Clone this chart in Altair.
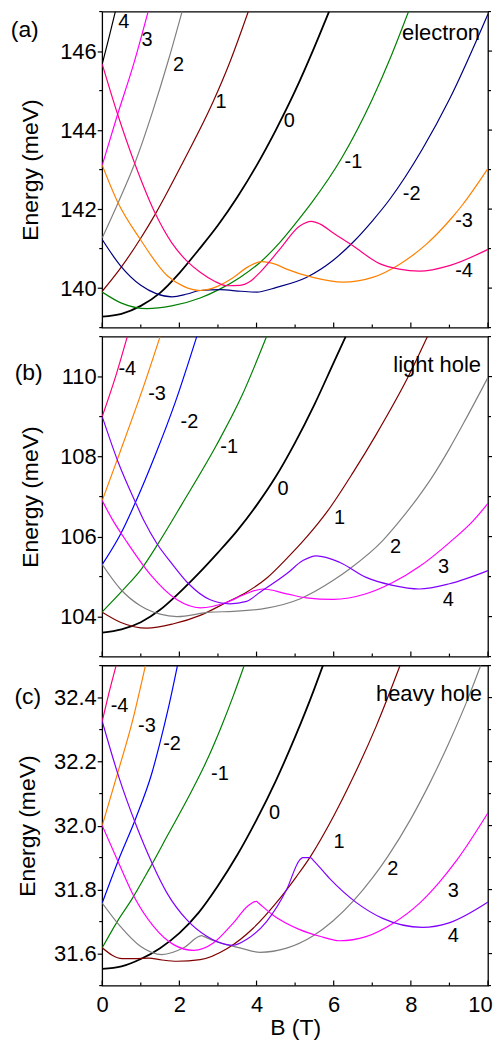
import altair as alt
import pandas as pd

FONT = "Liberation Sans"
W = 387

X_MAJOR = [0, 2, 4, 6, 8, 10]
X_MINOR = [1, 3, 5, 7, 9]

# ---------------- panel (a) electron ----------------
A_NAMES = ["4", "3", "2", "1", "0", "-1", "-2", "-3", "-4"]
A_COLORS = ["#000000", "#FF00FF", "#808080", "#800000", "#000000",
            "#008000", "#000080", "#FF8000", "#FF0080"]
a_p4 = [(0, 145.67), (0.17, 146.32), (0.34, 147.0)]
a_p3 = [(0, 143.11), (0.4, 144.4), (0.82, 145.69), (1.19, 147.0)]
a_p2 = [(0, 141.27), (0.43, 142.2), (0.86, 143.2), (1.3, 144.45), (1.74, 145.85), (2.07, 147.0)]
a_p1 = [(0, 139.92), (0.47, 140.5), (0.99, 141.25), (1.38, 141.88), (2.1, 143.2),
        (2.88, 144.73), (3.3, 145.7), (3.785, 147.0)]
a_0 = [(0, 139.28), (0.5, 139.35), (1.0, 139.55), (1.5, 139.88), (2.0, 140.38), (2.5, 140.97),
       (3.0, 141.59), (3.5, 142.3), (4.0, 143.1), (4.5, 144.0), (5.0, 144.99), (5.5, 146.1),
       (5.88, 147.0)]
a_m1 = [(0, 139.9), (0.5, 139.62), (1.16, 139.48), (1.8, 139.55), (2.54, 139.75), (3.06, 139.98),
        (3.57, 140.27), (4.09, 140.65), (4.6, 141.15), (5.12, 141.77), (5.42, 142.15),
        (6.2, 143.28), (7.0, 144.78), (7.5, 145.9), (7.94, 147.0)]
a_m2 = [(0, 141.23), (0.47, 140.57), (1.0, 140.07), (1.4, 139.86), (1.81, 139.78), (2.2, 139.85),
        (2.54, 139.94), (3.06, 139.96), (3.6, 139.92), (4.0, 139.9), (4.52, 140.02), (5.29, 140.27),
        (5.98, 140.7), (6.5, 141.16), (7.01, 141.71), (7.44, 142.23), (8.3, 143.52), (9.0, 144.78),
        (10, 146.94)]
a_m3 = [(0, 143.11), (0.39, 142.2), (0.99, 141.23), (1.68, 140.32), (2.1, 140.05), (2.54, 139.94),
        (3.0, 140.05), (3.4, 140.27), (3.8, 140.55), (4.13, 140.67), (4.5, 140.6), (4.78, 140.48),
        (5.46, 140.27), (6.24, 140.15), (7.01, 140.27), (7.7, 140.6), (8.39, 141.1),
        (9.08, 141.8), (9.34, 142.11), (10, 143.03)]
a_m4 = [(0, 145.67), (0.4, 144.4), (0.86, 143.11), (1.38, 141.88), (1.8, 141.15), (2.21, 140.67),
        (2.54, 140.4), (2.9, 140.18), (3.23, 140.06), (3.57, 140.07), (3.85, 140.18), (4.09, 140.4),
        (4.6, 140.98), (5.12, 141.57), (5.42, 141.69), (5.65, 141.62), (5.98, 141.4), (6.5, 141.07),
        (7.19, 140.62), (7.7, 140.48), (8.22, 140.43), (9.0, 140.57), (10, 140.98)]
A_CURVES = [a_p4, a_p3, a_p2, a_p1, a_0, a_m1, a_m2, a_m3, a_m4]
A_LAB = ["4", "3", "2", "1", "0", "-1", "-2", "-3", "-4"]
A_LAB_B = [0.56, 1.16, 1.98, 3.08, 4.85, 6.51, 8.02, 9.38, 9.38]
A_LAB_E = [146.73, 146.27, 145.65, 144.72, 144.23, 143.18, 142.38, 141.69, 140.44]
A_YMAJ = [140, 142, 144, 146]
A_YMIN = [139, 141, 143, 145, 147]

# ---------------- panel (b) light hole ----------------
B_NAMES = ["-4", "-3", "-2", "-1", "0", "1", "2", "3", "4"]
B_COLORS = ["#FF0080", "#FF8000", "#0000FF", "#008000", "#000000",
            "#800000", "#808080", "#FF00FF", "#8000FF"]
b_m4 = [(0, 109.0), (0.34, 109.98), (0.65, 111.0)]
b_m3 = [(0, 106.9), (0.4, 107.95), (0.75, 108.88), (1.07, 109.75), (1.5, 111.0)]
b_m2 = [(0, 105.3), (0.47, 106.05), (0.86, 106.85), (1.38, 108.05), (1.89, 109.35), (2.45, 111.0)]
b_m1 = [(0, 104.12), (0.6, 104.73), (1.0, 105.17), (1.42, 105.78), (2.06, 106.8), (2.97, 108.3),
        (3.61, 109.5), (4.26, 111.0)]
b_0 = [(0, 103.6), (0.5, 103.68), (1.0, 103.86), (1.5, 104.17), (2.0, 104.6), (2.5, 105.08),
       (3.0, 105.6), (3.5, 106.15), (4.0, 106.78), (4.5, 107.5), (5.0, 108.35), (5.5, 109.3),
       (6.0, 110.35), (6.31, 111.0)]
b_p1 = [(0, 104.11), (0.47, 103.86), (1.16, 103.71), (1.85, 103.82), (2.54, 104.03), (3.23, 104.36),
        (3.74, 104.61), (4.26, 104.96), (4.78, 105.45), (5.29, 105.98), (5.85, 106.65), (6.5, 107.6),
        (7.1, 108.55), (7.96, 110.05), (8.43, 111.0)]
b_p2 = [(0, 105.3), (0.47, 104.69), (0.99, 104.27), (1.5, 104.06), (1.94, 104.0), (2.8, 104.11),
        (3.4, 104.13), (4.26, 104.21), (5.12, 104.44), (5.98, 104.9), (6.41, 105.19), (7.27, 105.9),
        (7.7, 106.38), (8.2, 107.0), (8.56, 107.5), (9.0, 108.2), (9.42, 108.93), (10, 109.98)]
b_p3 = [(0, 106.9), (0.25, 106.45), (0.65, 105.85), (1.25, 105.05), (1.94, 104.42), (2.54, 104.22),
        (3.23, 104.36), (3.7, 104.56), (4.17, 104.69), (4.78, 104.57), (5.29, 104.47), (5.98, 104.43),
        (6.84, 104.57), (7.53, 104.85), (8.22, 105.25), (9.0, 105.85), (9.6, 106.38), (10, 106.83)]
b_p4 = [(0, 109.0), (0.43, 107.82), (0.86, 106.86), (1.08, 106.4), (1.42, 105.82), (1.81, 105.32),
        (2.24, 104.82), (2.8, 104.42), (3.31, 104.32), (3.74, 104.38), (4.09, 104.61), (4.78, 105.07),
        (5.2, 105.4), (5.55, 105.52), (6.15, 105.36), (6.84, 104.98), (7.53, 104.78), (8.22, 104.69),
        (9.0, 104.82), (10, 105.15)]
B_CURVES = [b_m4, b_m3, b_m2, b_m1, b_0, b_p1, b_p2, b_p3, b_p4]
B_LAB = ["-4", "-3", "-2", "-1", "0", "1", "2", "3", "4"]
B_LAB_B = [0.65, 1.42, 2.26, 3.29, 4.69, 6.15, 7.6, 8.85, 8.97]
B_LAB_E = [110.19, 109.57, 108.86, 108.23, 107.19, 106.47, 105.73, 105.23, 104.42]
B_YMAJ = [104, 106, 108, 110]
B_YMIN = [103, 105, 107, 109, 111]

# ---------------- panel (c) heavy hole ----------------
C_NAMES = ["-4", "-3", "-2", "-1", "0", "1", "2", "3", "4"]
C_COLORS = ["#FF0080", "#FF8000", "#0000FF", "#008000", "#000000",
            "#800000", "#808080", "#FF00FF", "#8000FF"]
c_m4 = [(0, 32.326), (0.17, 32.412), (0.36, 32.5)]
c_m3 = [(0, 32.0), (0.39, 32.16), (0.77, 32.32), (1.12, 32.5)]
c_m2 = [(0, 31.758), (0.43, 31.895), (0.86, 32.02), (1.29, 32.165), (1.5, 32.26), (1.72, 32.37),
        (1.95, 32.5)]
c_m1 = [(0, 31.618), (0.39, 31.7), (0.77, 31.77), (1.2, 31.86), (1.72, 31.975), (2.24, 32.09),
        (2.71, 32.203), (3.1, 32.313), (3.4, 32.406), (3.68, 32.5)]
c_0 = [(0, 31.552), (0.5, 31.56), (1.0, 31.583), (1.5, 31.617), (2.0, 31.664), (2.5, 31.728),
       (3.0, 31.812), (3.5, 31.908), (4.0, 32.018), (4.5, 32.14), (5.0, 32.277), (5.5, 32.428),
       (5.72, 32.5)]
c_p1 = [(0, 31.618), (0.52, 31.584), (0.85, 31.584), (1.2, 31.586), (1.55, 31.58), (1.94, 31.576),
        (2.54, 31.581), (3.23, 31.615), (3.92, 31.68), (4.52, 31.76), (5.03, 31.84), (5.38, 31.9),
        (6.0, 32.03), (6.5, 32.15), (7.1, 32.31), (7.72, 32.5)]
c_p2 = [(0, 31.758), (0.47, 31.685), (0.99, 31.623), (1.55, 31.597), (2.11, 31.618), (2.58, 31.656),
        (2.64, 31.653), (3.06, 31.633), (3.57, 31.618), (4.09, 31.604), (4.78, 31.617), (5.46, 31.655),
        (5.98, 31.702), (6.5, 31.763), (7.01, 31.837), (7.4, 31.903), (8.0, 32.021), (8.5, 32.135),
        (9.0, 32.262), (9.5, 32.403), (9.81, 32.5)]
c_p3 = [(0, 32.0), (0.43, 31.882), (0.82, 31.779), (1.33, 31.685), (1.85, 31.628), (2.37, 31.61),
        (2.88, 31.633), (3.4, 31.696), (3.79, 31.75), (4.0, 31.763), (4.06, 31.757), (4.43, 31.72),
        (5.12, 31.675), (5.64, 31.654), (6.15, 31.64), (6.84, 31.653), (7.53, 31.694), (8.22, 31.757),
        (8.73, 31.822), (9.21, 31.895), (10, 32.04)]
c_p4 = [(0, 32.326), (0.43, 32.152), (0.86, 32.007), (1.29, 31.883), (1.68, 31.789), (2.19, 31.706),
        (2.71, 31.654), (3.23, 31.628), (3.4, 31.626), (3.74, 31.644), (4.26, 31.70), (4.78, 31.8),
        (5.12, 31.893), (5.2, 31.9), (5.4, 31.9), (5.46, 31.893), (5.89, 31.835), (6.58, 31.76),
        (7.27, 31.71), (8.3, 31.682), (8.99, 31.696), (10, 31.761)]
C_CURVES = [c_m4, c_m3, c_m2, c_m1, c_0, c_p1, c_p2, c_p3, c_p4]
C_LAB = ["-4", "-3", "-2", "-1", "0", "1", "2", "3", "4"]
C_LAB_B = [0.45, 1.16, 1.81, 3.05, 4.47, 6.14, 7.53, 9.1, 9.1]
C_LAB_E = [32.373, 32.311, 32.254, 32.161, 32.04, 31.95, 31.865, 31.794, 31.656]
C_YMAJ = [31.6, 31.8, 32.0, 32.2, 32.4]
C_YMIN = [31.5, 31.7, 31.9, 32.1, 32.3, 32.5]


def make_df(names, curves):
    rows = []
    for n, pts in zip(names, curves):
        for b, e in pts:
            rows.append({"curve": n, "B": b, "E": e})
    return pd.DataFrame(rows)


def panel(names, curves, colors, lab_t, lab_b, lab_e, ydom, ymaj, ymin, yfmt, H,
          letter, lx, ly, tag, tx, ty, tpad, show_x):
    xscale = alt.Scale(domain=[0, 10], nice=False, zero=False)
    yscale = alt.Scale(domain=ydom, nice=False, zero=False)
    if show_x:
        xax = alt.Axis(values=X_MAJOR, title="B (T)", ticks=False, tickSize=0, domain=False,
                       labelPadding=9, titlePadding=1, grid=False, labelFlush=False,
                       labelOverlap=False,
                       labelOffset={"condition": {"test": "datum.value == 10", "value": -8},
                                    "value": 0})
    else:
        xax = None
    yax = alt.Axis(values=ymaj, format=yfmt, title="Energy (meV)", tickSize=5, labelPadding=1,
                   titlePadding=tpad, domain=False, grid=False, labelOverlap=False)
    X = alt.X("B:Q", scale=xscale, axis=xax)
    Y = alt.Y("E:Q", scale=yscale, axis=yax)

    df = make_df(names, curves)
    lines = alt.Chart(df).mark_line(clip=True, interpolate="monotone").encode(
        x=X, y=Y,
        color=alt.Color("curve:N", scale=alt.Scale(domain=names, range=colors), legend=None),
        strokeWidth=alt.condition("datum.curve == '0'", alt.value(1.8), alt.value(1.2)),
        detail="curve:N",
    )
    lab_df = pd.DataFrame({"B": lab_b, "E": lab_e, "t": lab_t})
    labels = alt.Chart(lab_df).mark_text(font=FONT, fontSize=20, color="black",
                                         align="center", baseline="middle").encode(
        x=X, y=Y, text="t:N")

    rule = dict(color="black", strokeWidth=1.2)
    left_min = alt.Chart(pd.DataFrame({"E": ymin})).mark_rule(**rule).encode(
        y=Y, x=alt.value(-3), x2=alt.value(0))
    right_maj = alt.Chart(pd.DataFrame({"E": ymaj})).mark_rule(**rule).encode(
        y=Y, x=alt.value(W), x2=alt.value(W + 4))
    right_min = alt.Chart(pd.DataFrame({"E": ymin})).mark_rule(**rule).encode(
        y=Y, x=alt.value(W), x2=alt.value(W + 3))
    bot_maj = alt.Chart(pd.DataFrame({"B": X_MAJOR})).mark_rule(**rule).encode(
        x=X, y=alt.value(H - 5), y2=alt.value(H))
    bot_min = alt.Chart(pd.DataFrame({"B": X_MINOR})).mark_rule(**rule).encode(
        x=X, y=alt.value(H - 3), y2=alt.value(H))

    letter_c = alt.Chart(pd.DataFrame({"t": [letter]})).mark_text(
        font=FONT, fontSize=23, color="black", align="center", baseline="alphabetic").encode(
        text="t:N", x=alt.value(lx), y=alt.value(ly))
    tag_c = alt.Chart(pd.DataFrame({"t": [tag]})).mark_text(
        font=FONT, fontSize=22, color="black", align="right", baseline="alphabetic").encode(
        text="t:N", x=alt.value(tx), y=alt.value(ty))

    return alt.layer(lines, labels, left_min, right_maj, right_min, bot_maj, bot_min,
                     letter_c, tag_c).properties(width=W, height=H)


pa = panel(A_NAMES, A_CURVES, A_COLORS, A_LAB, A_LAB_B, A_LAB_E, [139, 147], A_YMAJ, A_YMIN,
           "d", 317, "(a)", -77.7, 25.0, "electron", W - 8, 29.0, 17, False)
pb = panel(B_NAMES, B_CURVES, B_COLORS, B_LAB, B_LAB_B, B_LAB_E, [103, 111], B_YMAJ, B_YMIN,
           "d", 321, "(b)", -73.7, 43.5, "light hole", W - 7, 36, 17, False)
pc = panel(C_NAMES, C_CURVES, C_COLORS, C_LAB, C_LAB_B, C_LAB_E, [31.5, 32.5], C_YMAJ, C_YMIN,
           ".1f", 321, "(c)", -74.7, 38.5, "heavy hole", W - 6, 36, 14, True)

chart = alt.vconcat(pa, pb, pc, spacing=9, bounds="flush").resolve_scale(
    color="independent"
).properties(
    padding={"left": 1.5, "top": 0, "right": 0, "bottom": 0}
).configure_view(
    stroke="black", strokeWidth=1.3
).configure_axis(
    labelFont=FONT, titleFont=FONT, labelFontSize=22, titleFontSize=23,
    titleFontWeight="normal", labelColor="black", titleColor="black",
    tickColor="black", tickWidth=1.2
)

chart.save("out.html", embed_options={"renderer": "svg", "actions": False})
